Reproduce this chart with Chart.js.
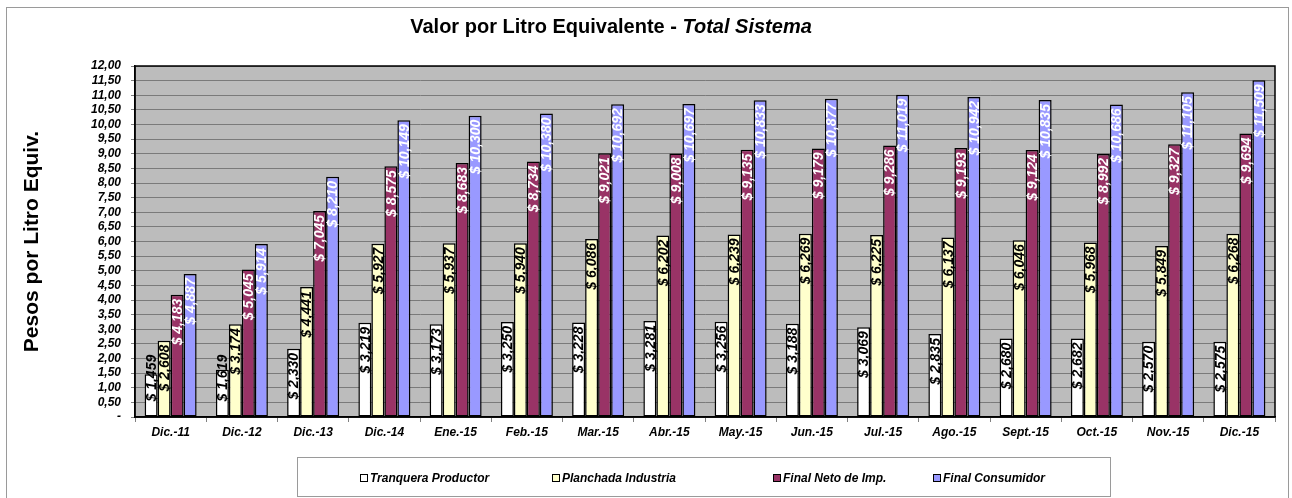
<!DOCTYPE html>
<html lang="es">
<head>
<meta charset="UTF-8">
<title>Valor por Litro Equivalente - Total Sistema</title>
<script src="https://cdn.jsdelivr.net/npm/chart.js"></script>
<style>
    body { margin: 0; background: #fff; }
    canvas { display: block; }
</style>
</head>
<body>
<canvas id="chart" width="1292" height="498"></canvas>
<script>
    // Data
    const categories = ['Dic.-11', 'Dic.-12', 'Dic.-13', 'Dic.-14', 'Ene.-15', 'Feb.-15', 'Mar.-15', 'Abr.-15',
        'May.-15', 'Jun.-15', 'Jul.-15', 'Ago.-15', 'Sept.-15', 'Oct.-15', 'Nov.-15', 'Dic.-15'];
    const tranquera = [1.459, 1.619, 2.330, 3.219, 3.173, 3.250, 3.228, 3.281, 3.256, 3.188, 3.069, 2.835, 2.680, 2.682, 2.570, 2.575];
    const planchada = [2.608, 3.174, 4.441, 5.927, 5.937, 5.940, 6.086, 6.202, 6.239, 6.269, 6.225, 6.137, 6.046, 5.968, 5.849, 6.268];
    const finalNeto = [4.183, 5.045, 7.045, 8.575, 8.683, 8.734, 9.021, 9.008, 9.135, 9.179, 9.286, 9.193, 9.124, 8.992, 9.327, 9.694];
    const finalConsumidor = [4.887, 5.914, 8.210, 10.149, 10.300, 10.380, 10.692, 10.697, 10.833, 10.877, 11.019, 10.942, 10.835, 10.686, 11.105, 11.509];
    const seriesNames = ['Tranquera Productor', 'Planchada Industria', 'Final Neto de Imp.', 'Final Consumidor'];

    const FONT = 'Arial, "Liberation Sans", sans-serif';
    const fills = ['#ffffff', '#ffffcc', '#993366', '#9999ff'];
    const labelColors = ['#000000', '#000000', '#ffffff', '#ffffff'];

    // background, outer frame and plot fill
    const framePlugin = {
        id: 'frame',
        beforeDraw(chart) {
            const { ctx, chartArea: a } = chart;
            ctx.save();
            ctx.fillStyle = '#ffffff';
            ctx.fillRect(0, 0, chart.width, chart.height);
            ctx.strokeStyle = '#9a9a9a';
            ctx.lineWidth = 1;
            ctx.strokeRect(6.5, 7.5, 1282, 520);
            ctx.fillStyle = '#bcbcbc';
            ctx.fillRect(a.left, a.top, a.right - a.left, a.bottom - a.top);
            ctx.restore();
        },
        afterDraw(chart) {
            const { ctx, chartArea: a } = chart;
            ctx.save();
            // plot border
            ctx.strokeStyle = '#000';
            ctx.lineWidth = 1.5;
            ctx.strokeRect(a.left, a.top, a.right - a.left, a.bottom - a.top);

            // title with mixed style
            const t1 = 'Valor por Litro Equivalente - ';
            const t2 = 'Total Sistema';
            ctx.fillStyle = '#000';
            ctx.textBaseline = 'middle';
            ctx.textAlign = 'left';
            ctx.font = 'bold 20px ' + FONT;
            const w1 = ctx.measureText(t1).width;
            ctx.font = 'italic bold 20px ' + FONT;
            const w2 = ctx.measureText(t2).width;
            let x = 611 - (w1 + w2) / 2;
            ctx.font = 'bold 20px ' + FONT;
            ctx.fillText(t1, x, 27);
            ctx.font = 'italic bold 20px ' + FONT;
            ctx.fillText(t2, x + w1, 27);

            // legend box
            ctx.strokeStyle = '#9a9a9a';
            ctx.lineWidth = 1;
            ctx.strokeRect(297.5, 457.5, 813, 39);
            const itemX = [360, 552, 773, 933];
            ctx.font = 'italic bold 12px ' + FONT;
            chart.data.datasets.forEach((ds, i) => {
                ctx.fillStyle = ds.backgroundColor;
                ctx.fillRect(itemX[i] + 0.5, 474.5, 7, 7);
                ctx.strokeStyle = '#000';
                ctx.strokeRect(itemX[i] + 0.5, 474.5, 7, 7);
                ctx.fillStyle = '#000';
                ctx.fillText(ds.label, itemX[i] + 10, 478.5);
            });
            ctx.restore();
        }
    };

    // rotated value labels inside the bars
    const valueLabels = {
        id: 'valueLabels',
        afterDatasetsDraw(chart) {
            const ctx = chart.ctx;
            ctx.save();
            ctx.font = 'italic bold 14px ' + FONT;
            ctx.textAlign = 'right';
            ctx.textBaseline = 'middle';
            chart.data.datasets.forEach((ds, d) => {
                const meta = chart.getDatasetMeta(d);
                meta.data.forEach((bar, i) => {
                    const txt = '$ ' + ds.data[i].toFixed(3).replace('.', ',');
                    const w = ctx.measureText(txt).width;
                    let y = bar.y + 4;
                    if (y + w > bar.base - 15) y = bar.base - 15 - w;
                    ctx.save();
                    ctx.translate(bar.x + 1, y);
                    ctx.rotate(-Math.PI / 2);
                    ctx.fillStyle = labelColors[d];
                    ctx.fillText(txt, 0, 0);
                    ctx.restore();
                });
            });
            ctx.restore();
        }
    };

    const seriesData = [tranquera, planchada, finalNeto, finalConsumidor];

    new Chart(document.getElementById('chart'), {
        type: 'bar',
        data: {
            labels: categories,
            datasets: seriesData.map((vals, i) => ({
                label: seriesNames[i],
                data: vals,
                backgroundColor: fills[i],
                borderColor: '#000',
                borderWidth: 1.5,
                borderSkipped: false,
                categoryPercentage: 0.73,
                barPercentage: 1
            }))
        },
        options: {
            responsive: false,
            animation: false,
            devicePixelRatio: 1,
            layout: { padding: { left: 0, top: 66, right: 17, bottom: 0 } },
            plugins: {
                legend: { display: false },
                title: { display: false },
                tooltip: { enabled: false }
            },
            scales: {
                x: {
                    grid: { display: true, offset: true, drawOnChartArea: false, tickLength: 5, color: '#808080' },
                    border: { color: '#000', width: 1.5 },
                    ticks: { color: '#000', font: { family: FONT, size: 12, weight: 'bold', style: 'italic' }, padding: 3, maxRotation: 0, autoSkip: false },
                    afterFit(scale) { scale.height = 81; }
                },
                y: {
                    min: 0,
                    max: 12,
                    grid: { color: '#7a7a7a', lineWidth: 1, tickLength: 4, tickColor: '#808080' },
                    border: { color: '#000', width: 1.5 },
                    ticks: {
                        stepSize: 0.5,
                        autoSkip: false,
                        padding: 10,
                        color: '#000',
                        font: { family: FONT, size: 12, weight: 'bold', style: 'italic' },
                        callback: v => v === 0 ? '-' : v.toFixed(2).replace('.', ',')
                    },
                    title: {
                        display: true,
                        text: 'Pesos por Litro Equiv.',
                        color: '#000',
                        font: { family: FONT, size: 21, weight: 'bold' },
                        padding: { top: 20, bottom: 0 }
                    },
                    afterFit(scale) { scale.width = 135; }
                }
            }
        },
        plugins: [framePlugin, valueLabels]
    });
</script>
</body>
</html>
